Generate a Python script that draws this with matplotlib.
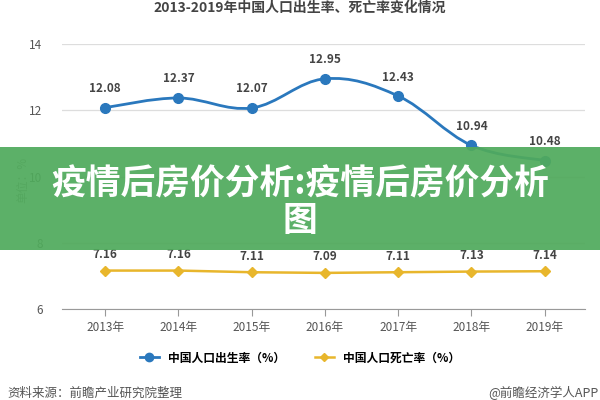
import matplotlib
matplotlib.use('Agg')
import matplotlib.pyplot as plt
from matplotlib.path import Path
from matplotlib.patches import PathPatch, Rectangle
import numpy as np

plt.rcParams['font.family'] = ['Noto Sans CJK SC', 'DejaVu Sans']

years = ['2013年', '2014年', '2015年', '2016年', '2017年', '2018年', '2019年']
birth_rate = [12.08, 12.37, 12.07, 12.95, 12.43, 10.94, 10.48]
death_rate = [7.16, 7.16, 7.11, 7.09, 7.11, 7.13, 7.14]
yticks = [6, 8, 10, 12, 14]

blue = '#2a78bd'
yellow = '#e8b62c'


def smooth_path(xs, ys, k=0.18):
    # bezier through the points (catmull-rom style control points)
    verts = [(xs[0], ys[0])]
    codes = [Path.MOVETO]
    n = len(xs)
    for i in range(n - 1):
        x0, y0 = xs[max(i - 1, 0)], ys[max(i - 1, 0)]
        x1, y1 = xs[i], ys[i]
        x2, y2 = xs[i + 1], ys[i + 1]
        x3, y3 = xs[min(i + 2, n - 1)], ys[min(i + 2, n - 1)]
        c1 = (x1 + (x2 - x0) * k, y1 + (y2 - y0) * k)
        c2 = (x2 - (x3 - x1) * k, y2 - (y3 - y1) * k)
        verts += [c1, c2, (x2, y2)]
        codes += [Path.CURVE4] * 3
    return Path(verts, codes)


fig = plt.figure(figsize=(6, 4), dpi=100)
ax = fig.add_axes([62 / 600, 1 - 309 / 400, (585 - 62) / 600, (309 - 44) / 400])

x = np.arange(len(years))
ax.add_patch(PathPatch(smooth_path(x, birth_rate), facecolor='none', edgecolor=blue, lw=2, zorder=3))
ax.plot(x, birth_rate, 'o', color=blue, markersize=7, zorder=4)
ax.plot(x, death_rate, '-D', color=yellow, lw=1.8, markersize=5, zorder=4)

for xi, v in zip(x, birth_rate):
    ax.annotate('%.2f' % v, (xi, v), xytext=(0, 9), textcoords='offset points',
                ha='center', va='bottom', fontsize=8.5, fontweight='bold', color='#444444')
for xi, v in zip(x, death_rate):
    ax.annotate('%.2f' % v, (xi, v), xytext=(0, 7), textcoords='offset points',
                ha='center', va='bottom', fontsize=8.5, fontweight='bold', color='#444444')

ax.set_xlim(-0.59, 6.55)
ax.set_ylim(6, 14)
ax.set_xticks(x)
ax.set_xticklabels(years, fontsize=8.5, color='#555555')
ax.set_yticks(yticks)
ax.set_yticklabels([str(t) for t in yticks], fontsize=8.5, color='#555555')
ax.tick_params(axis='y', length=0, pad=14)
ax.tick_params(axis='x', length=5, color='#999999', pad=4)
ax.yaxis.grid(True, color='#dddddd', lw=0.9)
ax.set_axisbelow(True)
for s in ['left', 'right', 'top']:
    ax.spines[s].set_visible(False)
ax.spines['bottom'].set_color('#999999')
ax.spines['bottom'].set_zorder(1)

fig.text(0.038, 0.55, '单位：%', rotation=90, ha='center', va='center', fontsize=8.5, color='#888888')

# title
fig.text(0.5, 0.998, '2013-2019年中国人口出生率、死亡率变化情况', ha='center', va='top',
         fontsize=10, fontweight='bold', color='#444444')

# legend
ax.legend(handles=[plt.Line2D([], [], color=blue, marker='o', lw=2, markersize=6),
                   plt.Line2D([], [], color=yellow, marker='D', lw=1.8, markersize=4)],
          labels=['中国人口出生率（%）', '中国人口死亡率（%）'],
          loc='center', bbox_to_anchor=(0.5, 1 - 358 / 400), bbox_transform=fig.transFigure,
          ncol=2, frameon=False, handlelength=1.6, columnspacing=2.5,
          prop={'weight': 'bold', 'size': 8.5})

fig.text(0.013, 1 - 393 / 400, '资料来源：前瞻产业研究院整理', ha='left', va='center', fontsize=9, color='#555555')
fig.text(0.997, 1 - 393 / 400, '@前瞻经济学人APP', ha='right', va='center', fontsize=9, color='#555555')

# green banner over the chart
fig.patches.append(Rectangle((0, 1 - 250 / 400), 1, 103 / 400, transform=fig.transFigure,
                             facecolor='#50aa5c', alpha=0.93, edgecolor='none', zorder=10))
fig.text(0.5, 1 - 184 / 400, '疫情后房价分析:疫情后房价分析', ha='center', va='center',
         fontsize=25, fontweight='heavy', color='white', zorder=11)
fig.text(0.5, 1 - 221 / 400, '图', ha='center', va='center',
         fontsize=25, fontweight='heavy', color='white', zorder=11)

fig.savefig('out.png', dpi=100)
